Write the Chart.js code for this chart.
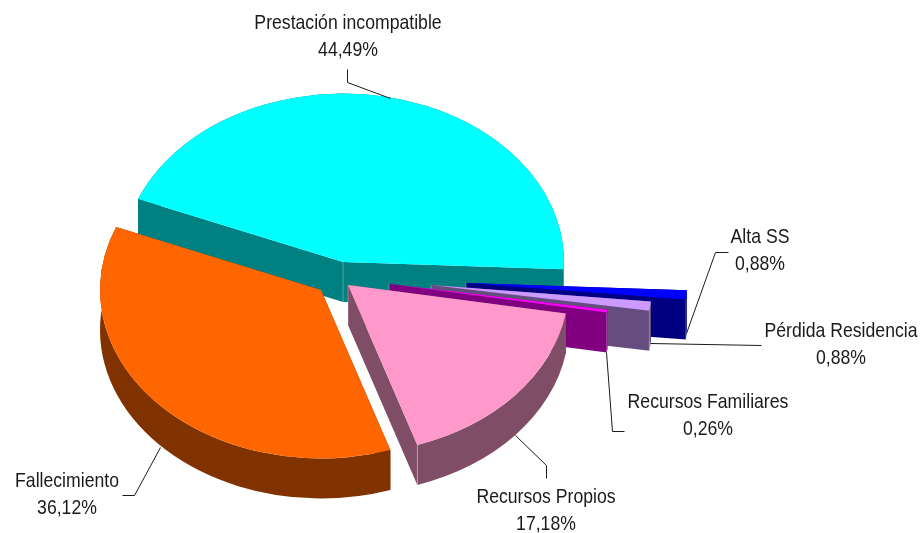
<!DOCTYPE html>
<html>
<head>
<meta charset="utf-8">
<style>
  html, body { margin: 0; padding: 0; background: #fff; }
  canvas { display: block; }
</style>
<script src="https://cdn.jsdelivr.net/npm/chart.js@4"></script>
</head>
<body>
<canvas id="bajasChart" width="920" height="533"></canvas>
<script>
// Data
const categories = ['Prestación incompatible', 'Alta SS', 'Pérdida Residencia', 'Recursos Familiares', 'Recursos Propios', 'Fallecimiento'];
const shares = [44.49, 0.88, 0.88, 0.26, 17.18, 36.12];

// Slice colours
const topColors = ['#00FFFF', '#0000FF', '#CC99FF', '#FF00FF', '#FF99CC', '#FF6600'];
const wallColors = ['#008080', '#000080', '#664D80', '#800080', '#804D66', '#803300'];

// Fake 3D settings
const tilt = 0.762;
const depth = 40;
const explodeX = [0, 123, 88, 46, 5, -22];
const explodeY = [0, 21, 23, 22, 23, 28];

// Label placement, same order as categories
const labelX = [348, 760, 841, 708, 546, 67];
const labelY = [23, 237, 331, 402, 497, 481];
const leaders = [
    [[347, 69], [347, 82], [390, 98]],
    [[686, 333], [715, 252], [728, 252]],
    [[650, 343], [761, 345]],
    [[606, 352], [612, 431], [624, 431]],
    [[515, 435], [546, 465], [546, 478]],
    [[160, 447], [134, 495], [122, 495]]
];

const pie3d = {
    id: 'pie3d',
    // replaces the flat arcs with the tilted ones, angles come from the arc elements
    beforeDatasetsDraw(chart) {
        const ctx = chart.ctx;
        chart.getDatasetMeta(0).data.forEach((arc, i) => {
            const p = arc.getProps(['x', 'y', 'startAngle', 'endAngle', 'outerRadius']);
            const cx = p.x + explodeX[i];
            const cy = p.y + explodeY[i];
            const r = p.outerRadius;
            const ry = r * tilt;
            const ax = cx + r * Math.cos(p.startAngle), ay = cy + ry * Math.sin(p.startAngle);
            const bx = cx + r * Math.cos(p.endAngle), by = cy + ry * Math.sin(p.endAngle);

            ctx.fillStyle = wallColors[i];
            [[ax, ay], [bx, by]].forEach(([ex, ey]) => {
                ctx.beginPath();
                ctx.moveTo(cx, cy);
                ctx.lineTo(ex, ey);
                ctx.lineTo(ex, ey + depth);
                ctx.lineTo(cx, cy + depth);
                ctx.closePath();
                ctx.fill();
            });

            // outer rim
            ctx.beginPath();
            ctx.ellipse(cx, cy, r, ry, 0, p.startAngle, p.endAngle);
            ctx.ellipse(cx, cy + depth, r, ry, 0, p.endAngle, p.startAngle, true);
            ctx.closePath();
            ctx.fill();

            // light seams on the wall corners
            ctx.strokeStyle = 'rgba(255,255,255,0.3)';
            ctx.lineWidth = 1;
            [[cx, cy], [bx, by]].forEach(([ex, ey]) => {
                ctx.beginPath();
                ctx.moveTo(ex, ey);
                ctx.lineTo(ex, ey + depth);
                ctx.stroke();
            });

            // top face
            ctx.fillStyle = topColors[i];
            ctx.beginPath();
            ctx.moveTo(cx, cy);
            ctx.ellipse(cx, cy, r, ry, 0, p.startAngle, p.endAngle);
            ctx.closePath();
            ctx.fill();
        });
        return false;
    },
    afterDraw(chart) {
        const ctx = chart.ctx;
        ctx.strokeStyle = '#1a1a1a';
        ctx.lineWidth = 1;
        leaders.forEach(points => {
            ctx.beginPath();
            points.forEach(([x, y], n) => n ? ctx.lineTo(x + 0.5, y + 0.5) : ctx.moveTo(x + 0.5, y + 0.5));
            ctx.stroke();
        });

        // no narrow font installed, so squeeze the normal one
        const squeeze = 0.84;
        ctx.fillStyle = '#1a1a1a';
        ctx.font = '21px "Liberation Sans", sans-serif';
        ctx.textAlign = 'center';
        ctx.textBaseline = 'middle';
        categories.forEach((name, i) => {
            ctx.save();
            ctx.translate(labelX[i], labelY[i]);
            ctx.scale(squeeze, 1);
            ctx.fillText(name, 0, 0);
            ctx.fillText(shares[i].toFixed(2).replace('.', ',') + '%', 0, 27.5);
            ctx.restore();
        });
    }
};

new Chart(document.getElementById('bajasChart'), {
    type: 'pie',
    data: {
        labels: categories,
        datasets: [{
            data: shares,
            backgroundColor: topColors,
            borderWidth: 0
        }]
    },
    options: {
        responsive: false,
        animation: false,
        rotation: -68,
        layout: { padding: { left: 122, right: 356, top: 41, bottom: 50 } },
        plugins: { legend: { display: false }, tooltip: { enabled: false } }
    },
    plugins: [pie3d]
});
</script>
</body>
</html>
